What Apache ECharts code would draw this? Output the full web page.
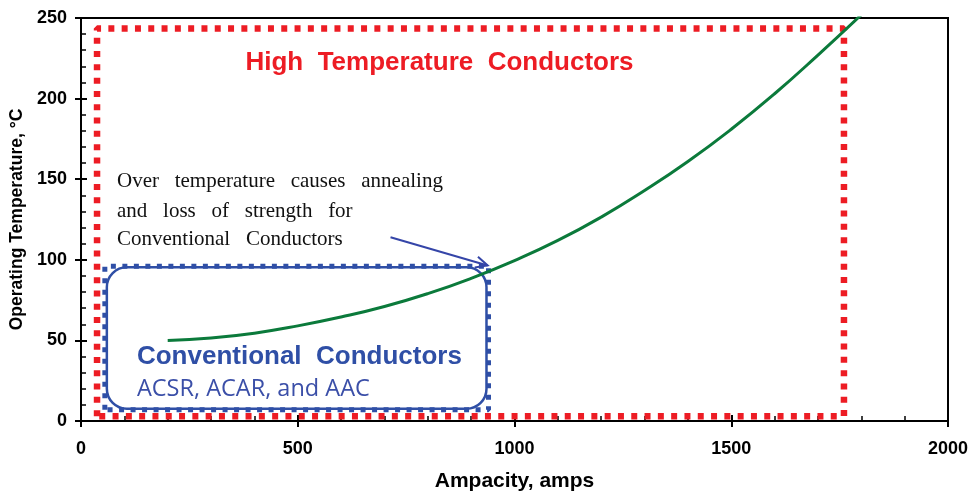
<!DOCTYPE html>
<html>
<head>
<meta charset="utf-8">
<script src="https://cdn.jsdelivr.net/npm/echarts@6/dist/echarts.min.js"></script>
<style>
  html, body { margin: 0; padding: 0; background: #fff; }
  #main { width: 969px; height: 494px; }
</style>
</head>
<body>
<div id="main"></div>
<script>
  // green curve: ampacity (amps) vs operating temperature (°C)
  var ampacity = [200, 300, 400, 500, 600, 700, 800, 900, 1000, 1100, 1200, 1300, 1400, 1500, 1600, 1700, 1800];
  var temperature = [50, 51.5, 54.5, 59, 64.5, 71, 79, 88.5, 99.5, 112, 126.5, 143, 161, 181, 203, 227, 252];

  var xTicks = [0, 500, 1000, 1500, 2000];
  var yTicks = [0, 50, 100, 150, 200, 250];

  // annotation boxes, in data units: [amp, temp] corners
  var highTempBox = [[37, 3], [37, 243.5], [1760, 243.5], [1760, 3], [37, 3]];
  var conventionalBox = [[55, 7], [55, 96], [940, 96], [940, 7], [55, 7]];
  var arrowFrom = [714, 114];
  var arrowTo = [938, 96.5];

  var noteLines = ['Over   temperature   causes   annealing', 'and   loss   of   strength   for', 'Conventional   Conductors'];
  var noteAnchors = [[83, 148.5], [83, 130], [83, 112.5]];

  var chart = echarts.init(document.getElementById('main'));
  var red = '#ed1c24';
  var blue = '#2f4fa6';

  function axisLabelStyle() {
    return { fontFamily: 'Liberation Sans, Arial', fontWeight: 'bold', fontSize: 18, color: '#000' };
  }

  chart.setOption({
    backgroundColor: '#fff',
    animation: false,
    grid: {
      left: 81, right: 21, top: 18, bottom: 73,
      outerBoundsMode: 'none', containLabel: false,
      show: true, borderColor: '#000', borderWidth: 2, backgroundColor: 'transparent'
    },
    xAxis: [{
      type: 'value', min: 0, max: 2000, interval: 500,
      name: 'Ampacity, amps', nameLocation: 'middle', nameGap: 50,
      nameTextStyle: { fontFamily: 'Liberation Sans, Arial', fontWeight: 'bold', fontSize: 21, color: '#000' },
      axisLine: { show: true, lineStyle: { color: '#000', width: 2 } },
      axisTick: { show: true, inside: false, length: 6, lineStyle: { color: '#000', width: 2 } },
      axisLabel: Object.assign({ margin: 19, formatter: function (v) { return xTicks.indexOf(v) >= 0 ? v : ''; } }, axisLabelStyle()),
      splitLine: { show: false }
    }, {
      type: 'value', min: 0, max: 2000, interval: 500, position: 'bottom',
      axisLine: { show: false },
      axisTick: { show: true, inside: true, length: 6, lineStyle: { color: '#000', width: 2 } },
      minorTick: { show: true, splitNumber: 5, length: 5, lineStyle: { color: '#000', width: 1.5 } },
      axisLabel: { show: false },
      splitLine: { show: false }
    }],
    yAxis: [{
      type: 'value', min: 0, max: 250, interval: 50,
      name: 'Operating Temperature, °C', nameLocation: 'middle', nameGap: 53, nameRotate: 90,
      nameTextStyle: { fontFamily: 'Liberation Sans, Arial', fontWeight: 'bold', fontSize: 17.5, color: '#000' },
      axisLine: { show: true, lineStyle: { color: '#000', width: 2 } },
      axisTick: { show: true, inside: false, length: 6, lineStyle: { color: '#000', width: 2 } },
      axisLabel: Object.assign({ margin: 14, formatter: function (v) { return yTicks.indexOf(v) >= 0 ? v : ''; } }, axisLabelStyle()),
      splitLine: { show: false }
    }, {
      type: 'value', min: 0, max: 250, interval: 50, position: 'left',
      axisLine: { show: false },
      axisTick: { show: true, inside: true, length: 6, lineStyle: { color: '#000', width: 2 } },
      minorTick: { show: true, splitNumber: 5, length: 5, lineStyle: { color: '#000', width: 1.5 } },
      axisLabel: { show: false },
      splitLine: { show: false }
    }],
    series: [{
      name: 'High Temperature box',
      type: 'line',
      data: highTempBox,
      symbol: 'none',
      silent: true,
      lineStyle: { color: red, width: 6.5, type: [6, 7.3], cap: 'butt' },
      z: 1
    }, {
      name: 'Conventional box',
      type: 'line',
      data: conventionalBox,
      symbol: 'none',
      silent: true,
      lineStyle: { color: blue, width: 5, type: [5, 6.5], cap: 'butt' },
      z: 2
    }, {
      name: 'Operating Temperature',
      type: 'line',
      data: ampacity.map(function (a, i) { return [a, temperature[i]]; }),
      smooth: true,
      symbol: 'none',
      lineStyle: { color: '#0b7a3b', width: 3 },
      z: 4
    }]
  });

  function px(p) {
    return chart.convertToPixel({ xAxisIndex: 0, yAxisIndex: 0 }, p);
  }

  var b0 = px(conventionalBox[0]);
  var b2 = px(conventionalBox[2]);
  var a0 = px(arrowFrom);
  var a1 = px(arrowTo);
  var ang = Math.atan2(a1[1] - a0[1], a1[0] - a0[0]);
  var headLen = 13, spread = 0.45;

  var graphics = [{
    type: 'rect',
    shape: { x: b0[0] + 2, y: b2[1] + 1, width: b2[0] - b0[0] - 4, height: b0[1] - b2[1] - 2, r: 20 },
    style: { fill: 'none', stroke: blue, lineWidth: 2.5 },
    z: 3
  }, {
    type: 'line',
    shape: { x1: a0[0], y1: a0[1], x2: a1[0], y2: a1[1] },
    style: { stroke: '#3545a8', lineWidth: 2 },
    z: 5
  }, {
    type: 'polyline',
    shape: { points: [
      [a1[0] - headLen * Math.cos(ang - spread), a1[1] - headLen * Math.sin(ang - spread)],
      [a1[0], a1[1]],
      [a1[0] - headLen * Math.cos(ang + spread), a1[1] - headLen * Math.sin(ang + spread)]
    ] },
    style: { stroke: '#3545a8', lineWidth: 2, fill: 'none' },
    z: 5
  }];

  var hp = px([827, 222]);
  graphics.push({
    type: 'text', x: hp[0], y: hp[1], z: 6,
    style: { text: 'High  Temperature  Conductors', fill: red, fontFamily: 'Liberation Sans, Arial', fontWeight: 'bold', fontSize: 26, align: 'center', verticalAlign: 'middle' }
  });
  var cp = px([129, 39.5]);
  graphics.push({
    type: 'text', x: cp[0], y: cp[1], z: 6,
    style: { text: 'Conventional  Conductors', fill: blue, fontFamily: 'Liberation Sans, Arial', fontWeight: 'bold', fontSize: 26, align: 'left', verticalAlign: 'middle' }
  });
  var sp = px([129, 19.5]);
  graphics.push({
    type: 'text', x: sp[0], y: sp[1], z: 6,
    style: { text: 'ACSR, ACAR, and AAC', fill: '#3b4fa8', fontFamily: 'Open Sans', fontSize: 23.5, align: 'left', verticalAlign: 'middle' }
  });
  noteLines.forEach(function (t, i) {
    var p = px(noteAnchors[i]);
    graphics.push({
      type: 'text', x: p[0], y: p[1], z: 6,
      style: { text: t, fill: '#111', fontFamily: 'Liberation Serif, Times New Roman', fontSize: 21, align: 'left', verticalAlign: 'middle' }
    });
  });

  chart.setOption({ graphic: graphics });
</script>
</body>
</html>
